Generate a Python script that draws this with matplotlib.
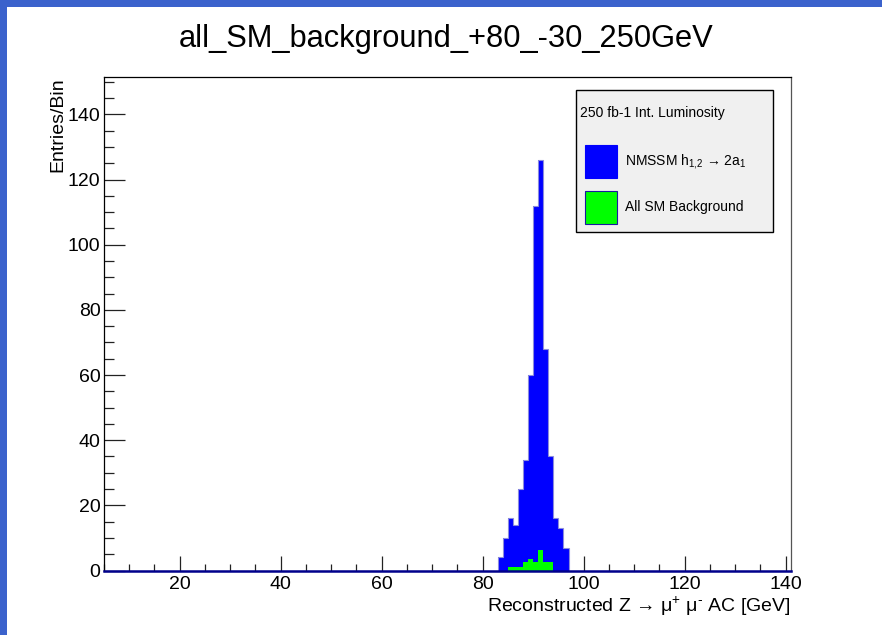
import matplotlib

matplotlib.use("Agg")
import matplotlib.pyplot as plt
import numpy as np
from matplotlib.patches import Rectangle
from matplotlib.ticker import MultipleLocator

plt.rcParams["font.family"] = ["Liberation Sans", "DejaVu Sans"]
plt.rcParams["mathtext.fontset"] = "custom"
plt.rcParams["mathtext.rm"] = "Liberation Sans"
plt.rcParams["mathtext.it"] = "Liberation Sans:italic"
plt.rcParams["mathtext.default"] = "regular"

TITLE = "all_SM_background_+80_-30_250GeV"
X_LABEL = r"Reconstructed Z → μ$^{+}$ μ$^{\text{-}}$ AC [GeV]"
Y_LABEL = "Entries/Bin"
LUMI_TEXT = "250 fb-1 Int. Luminosity"
SIGNAL_LABEL = r"NMSSM h$_{1{,}2}$ → 2a$_{1}$"
BACKGROUND_LABEL = "All SM Background"

# histogram binning (GeV)
x_min, x_max, bin_width = 5, 141, 1

# NMSSM signal, 1 GeV bins starting at 83 GeV
signal_first_bin = 83
signal_counts = [4, 10, 16, 14, 25, 34, 60, 112, 126, 68, 35, 16, 13, 7]

# all SM background, 1 GeV bins starting at 85 GeV
background_first_bin = 85
background_counts = [1.0, 1.0, 1.0, 2.5, 3.6, 2.5, 6.4, 2.5, 2.5]

W, H = 882, 635


def fill_bins(edges, first_bin, counts):
    values = np.zeros(len(edges) - 1)
    start = int(round((first_bin - edges[0]) / bin_width))
    values[start:start + len(counts)] = counts
    return values


def fig_px(x, y):
    return x / W, 1 - y / H


edges = np.arange(x_min, x_max + bin_width, bin_width)
signal = fill_bins(edges, signal_first_bin, signal_counts)
background = fill_bins(edges, background_first_bin, background_counts)

fig = plt.figure(figsize=(W / 100, H / 100), dpi=100)
ax = fig.add_axes([104 / W, 1 - 570.5 / H, (790.7 - 104) / W, (570.5 - 77) / H])

ax.stairs(signal, edges, fill=True, color="#0000ff", zorder=2)
ax.stairs(signal, edges, color="#8c8cdc", linewidth=0.8, zorder=2.1)
ax.stairs(background, edges, fill=True, color="#00ff00", zorder=3)

ax.set_xlim(x_min, x_max)
ax.set_ylim(0, 151.5)

ax.xaxis.set_major_locator(MultipleLocator(20))
ax.xaxis.set_minor_locator(MultipleLocator(5))
ax.yaxis.set_major_locator(MultipleLocator(20))
ax.yaxis.set_minor_locator(MultipleLocator(5))
ax.tick_params(axis="both", which="both", direction="in", top=False, right=False,
               labelsize=14, width=0.9, color="#222222")
ax.tick_params(axis="x", which="major", length=11, pad=4)
ax.tick_params(axis="x", which="minor", length=5)
ax.tick_params(axis="y", which="major", length=15, pad=2.5)
ax.tick_params(axis="y", which="minor", length=7)

for side in ("left", "top"):
    ax.spines[side].set_color("black")
    ax.spines[side].set_linewidth(0.9)
ax.spines["right"].set_color("#555555")
ax.spines["right"].set_linewidth(0.9)
ax.spines["bottom"].set_color("#00008b")
ax.spines["bottom"].set_linewidth(1.8)
ax.spines["bottom"].set_zorder(4)

ax.set_xlabel(X_LABEL, fontsize=14, loc="right")
ax.xaxis.set_label_coords(1.0, -0.05)
ax.set_ylabel(Y_LABEL, fontsize=14, loc="top")
ax.yaxis.set_label_coords(-0.0553, 1.0)

fig.text(446 / W, 1 - 38.5 / H, TITLE, ha="center", va="center", fontsize=22.2)

# legend box in ROOT style
x0, y0 = fig_px(576, 232)
fig.patches.append(Rectangle((x0, y0), 197 / W, 142 / H, transform=fig.transFigure,
                             facecolor="#f0f0f0", edgecolor="black", linewidth=1.0, zorder=5))
fig.text(*fig_px(580, 113), LUMI_TEXT, ha="left", va="center", fontsize=10, zorder=6)
for top, color, edge, label in [
    (145, "#0000ff", "#0000ff", SIGNAL_LABEL),
    (191, "#00ff00", "#1a1aa0", BACKGROUND_LABEL),
]:
    sx, sy = fig_px(585, top + 33)
    fig.patches.append(Rectangle((sx, sy), 32 / W, 33 / H, transform=fig.transFigure,
                                 facecolor=color, edgecolor=edge, linewidth=0.8, zorder=6))
    fig.text(*fig_px(625, top + 16.5), label, ha="left", va="center", fontsize=10, zorder=6)

# window frame visible in the screenshot
border = "#3b62cc"
fig.patches.append(Rectangle((0, 1 - 7 / H), 1, 7 / H, transform=fig.transFigure,
                             facecolor=border, edgecolor="none", zorder=10))
fig.patches.append(Rectangle((0, 0), 7 / W, 1, transform=fig.transFigure,
                             facecolor=border, edgecolor="none", zorder=10))

fig.savefig("out.png", dpi=100)
